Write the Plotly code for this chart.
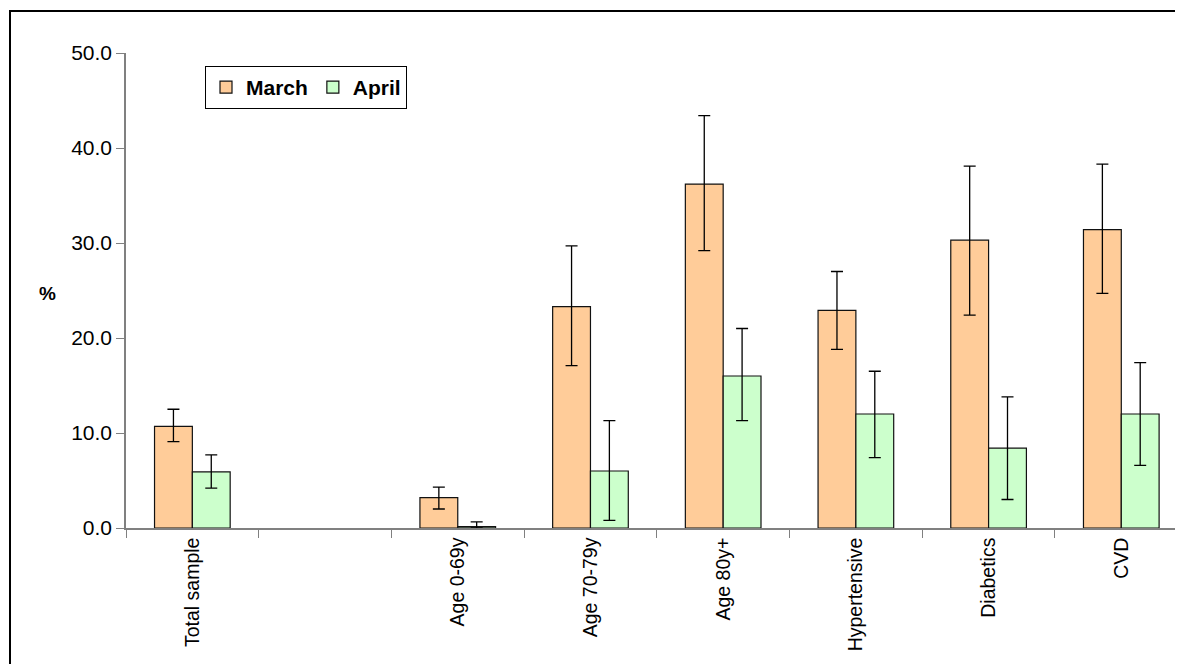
import plotly.graph_objects as go

categories = ["Total sample", " ", "Age 0-69y", "Age 70-79y", "Age 80y+", "Hypertensive", "Diabetics", "CVD"]
march = [10.7, None, 3.2, 23.3, 36.2, 22.9, 30.3, 31.4]
march_hi = [12.5, None, 4.3, 29.7, 43.4, 27.0, 38.1, 38.3]
march_lo = [9.1, None, 2.0, 17.1, 29.2, 18.8, 22.4, 24.7]
april = [5.9, None, 0.15, 6.0, 16.0, 12.0, 8.4, 12.0]
april_hi = [7.7, None, 0.65, 11.3, 21.0, 16.5, 13.8, 17.4]
april_lo = [4.2, None, 0.0, 0.8, 11.3, 7.4, 3.0, 6.6]
y_ticks = [0, 10, 20, 30, 40, 50]

def plus(v, hi):
    return [None if a is None else h - a for a, h in zip(v, hi)]

def minus(v, lo):
    return [None if a is None else a - l for a, l in zip(v, lo)]

OFF = 8  # page body margin
W, H = 1183 - OFF, 664 - OFF
L, R, T, B = 126 - OFF, 0, 53 - OFF, 664 - 528
pw, ph = W - L - R, H - T - B

def px(x):
    return (x - OFF - L) / pw

def py(y):
    return (H - B - (y - OFF)) / ph

fig = go.Figure()
fig.add_trace(go.Bar(
    x=categories, y=march, name="March",
    marker=dict(color="#FFCC99", line=dict(color="#111111", width=1.2)),
    error_y=dict(type="data", symmetric=False, array=plus(march, march_hi),
                 arrayminus=minus(march, march_lo), color="black", thickness=1.3, width=6),
))
fig.add_trace(go.Bar(
    x=categories, y=april, name="April",
    marker=dict(color="#CCFFCC", line=dict(color="#111111", width=1.2)),
    error_y=dict(type="data", symmetric=False, array=plus(april, april_hi),
                 arrayminus=minus(april, april_lo), color="black", thickness=1.3, width=6),
))

fig.update_layout(
    width=W, height=H,
    margin=dict(l=L, r=R, t=T, b=B, pad=0),
    paper_bgcolor="white", plot_bgcolor="white",
    barmode="group", bargap=0.43, bargroupgap=0,
    font=dict(family="Liberation Sans, Arial, sans-serif", color="black"),
    showlegend=True,
    legend=dict(orientation="h", x=px(205), y=py(66), xanchor="left", yanchor="top",
                bordercolor="black", borderwidth=1, bgcolor="white",
                font=dict(size=21, family="Liberation Sans, Arial, sans-serif", weight="bold"),
                itemwidth=30, tracegroupgap=0),
    xaxis=dict(
        type="category", categoryorder="array", categoryarray=categories,
        range=[-0.5, 7.465], tickson="boundaries", ticks="outside", ticklen=8,
        tickcolor="#808080", tickwidth=1.3, showline=True, linecolor="#808080", linewidth=1.5,
        tickangle=-90, tickfont=dict(size=19.5), showgrid=False, zeroline=False,
    ),
    yaxis=dict(
        range=[0, 50], tickvals=y_ticks, tickformat=".1f", ticks="outside", ticklen=8,
        tickcolor="#808080", tickwidth=1.3, showline=True, linecolor="#808080", linewidth=1.5,
        tickfont=dict(size=21), showgrid=False, zeroline=False,
    ),
    annotations=[dict(text="<b>%</b>", x=px(47), y=py(293), xref="paper", yref="paper",
                      showarrow=False, font=dict(size=19), xanchor="center", yanchor="middle")],
    shapes=[dict(type="rect", xref="paper", yref="paper",
                 x0=px(10), y0=py(H + 40), x1=px(W + 40), y1=py(11),
                 line=dict(color="black", width=2), fillcolor="rgba(0,0,0,0)", layer="below")],
)

fig.write_html("out.html")
